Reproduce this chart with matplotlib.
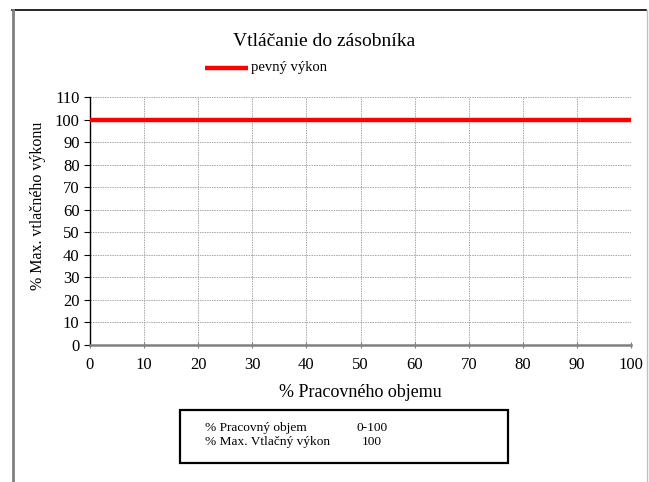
import matplotlib
matplotlib.use("Agg")
import matplotlib.pyplot as plt
from matplotlib.patches import Rectangle
from matplotlib.lines import Line2D

plt.rcParams['font.family'] = ['Liberation Serif', 'DejaVu Serif']

# data
objem = [0, 100]
vykon = [100, 100]
x_ticks = list(range(0, 101, 10))
y_ticks = list(range(0, 111, 10))
box_rows = [("% Pracovný objem", "0-100"), ("% Max. Vtlačný výkon", "100")]

W, H = 649, 482
fig = plt.figure(figsize=(W / 100, H / 100), dpi=100)

# outer frame (top, left, right)
fig.add_artist(Line2D([12 / W, 646 / W], [1 - 10 / H, 1 - 10 / H], color="black", lw=1.2))
fig.add_artist(Line2D([12.5 / W, 12.5 / W], [0, 1 - 10 / H], color="#808080", lw=2))
fig.add_artist(Line2D([646.5 / W, 646.5 / W], [0, 1 - 10 / H], color="#c0c0c0", lw=1))

ax = fig.add_axes([90 / W, 1 - 345 / H, 541 / W, 248 / H])
ax.plot(objem, vykon, color="#ff0000", lw=3.2, solid_capstyle="butt", zorder=3)
ax.set_xlim(0, 100)
ax.set_ylim(0, 110)
ax.set_xticks(x_ticks)
ax.set_yticks(y_ticks)
ax.grid(True, color="#a8a8a8", linestyle=(0, (1.5, 1)), lw=0.7)
for s in ["top", "right"]:
    ax.spines[s].set_visible(False)
ax.spines["left"].set_color("black")
ax.spines["left"].set_linewidth(1)
ax.spines["bottom"].set_color("#808080")
ax.spines["bottom"].set_linewidth(1.8)
ax.tick_params(axis="y", direction="out", length=4, labelsize=12, colors="black")
ax.tick_params(axis="x", direction="inout", length=5, labelsize=12, color="#808080", labelcolor="black", pad=6)
ax.set_xlabel("% Pracovného objemu", fontsize=13, labelpad=8)
ax.set_ylabel("% Max. vtlačného výkonu", fontsize=11.5, labelpad=6)
ax.yaxis.set_label_coords(-0.082, 0.56)

fig.text(324 / W, 1 - 42 / H, "Vtláčanie do zásobníka", ha="center", va="center", fontsize=14)
fig.add_artist(Line2D([205 / W, 248 / W], [1 - 68 / H, 1 - 68 / H], color="#ff0000", lw=3.2, solid_capstyle="butt"))
fig.text(251 / W, 1 - 68 / H, "pevný výkon", ha="left", va="center", fontsize=10.5)

fig.add_artist(Rectangle((180 / W, 1 - 463 / H), 328 / W, 53 / H, transform=fig.transFigure,
                         fill=False, edgecolor="black", lw=1.6))
for i, (name, val) in enumerate(box_rows):
    yy = 1 - (428 + 14 * i) / H
    fig.text(205 / W, yy, name, ha="left", va="center", fontsize=9.6)
    fig.text(372 / W, yy, val, ha="center", va="center", fontsize=9.6)

fig.savefig("out.png", dpi=100)
